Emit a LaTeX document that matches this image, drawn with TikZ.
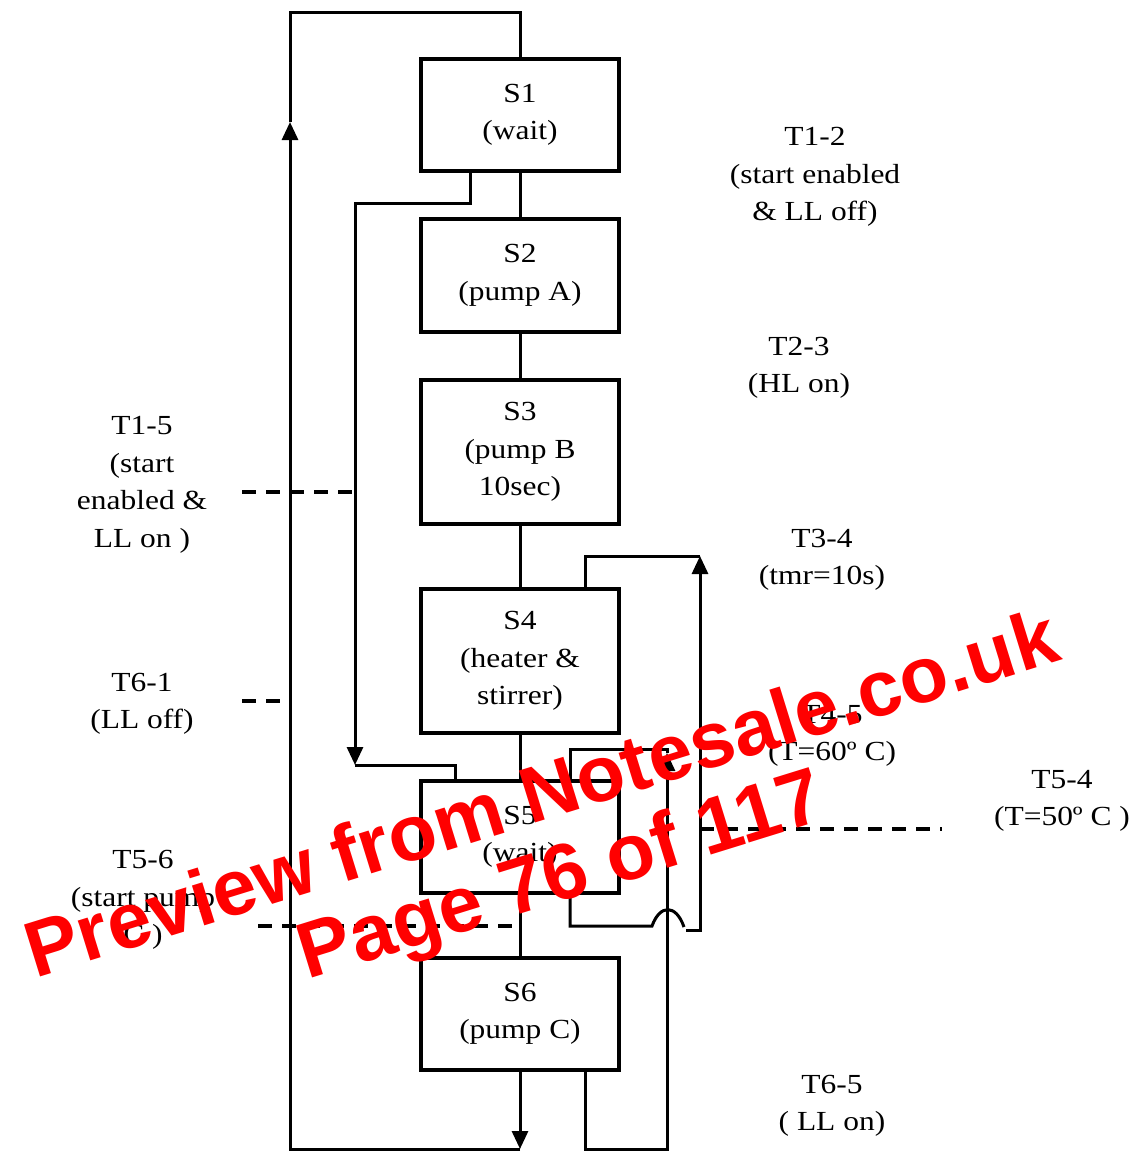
\documentclass[tikz,border=0pt]{standalone}
\usepackage{fontspec}
\setmainfont{Liberation Serif}[FakeStretch=1.14]
\newfontfamily\wmfont{Liberation Sans}
\usetikzlibrary{arrows.meta}
\newcommand\lblfont{\fontsize{13.8}{18.75}\selectfont}
\begin{document}
\begin{tikzpicture}[x=0.5pt,y=-0.5pt,
  state/.style={draw,line width=2pt,minimum width=99pt,align=center,inner sep=0pt,font=\lblfont},
  conn/.style={line width=1.5pt},
  tip/.style={-{Triangle[length=9pt,width=8pt]}},
  dsh/.style={line width=2pt,dash pattern=on 7pt off 5pt},
  lbl/.style={align=center,font=\lblfont,inner sep=0pt},
  wm/.style={text=red,font=\wmfont\bfseries\fontsize{39.5}{48}\selectfont,rotate=17.2,inner sep=0pt}]
\useasboundingbox (0,0) rectangle (1139,1152);
% states
\node[state,minimum height=56pt]   (S1) at (520,115)   {S1\\(wait)};
\node[state,minimum height=56.5pt] (S2) at (520,275.5) {S2\\(pump A)};
\node[state,minimum height=72pt]   (S3) at (520,452)   {S3\\(pump B\\10sec)};
\node[state,minimum height=72pt]   (S4) at (520,661)   {S4\\(heater \&\\stirrer)};
\node[state,minimum height=56pt]   (S5) at (520,837)   {S5\\(wait)};
\node[state,minimum height=56pt]   (S6) at (520,1014)  {S6\\(pump C)};
% straight transitions
\draw[conn] (S1) -- (S2);
\draw[conn] (S2) -- (S3);
\draw[conn] (S3) -- (S4);
\draw[conn] (S4) -- (S5);
\draw[conn] (S5) -- (S6);
% S6 -> S1 outer loop
\coordinate (bm) at (520,1149);
\coordinate (la) at (290,122);
\coordinate (tm) at (520,12);
\draw[conn,tip] (S6.south) -- (bm);
\draw[conn,tip] (bm) -- (290,1149) -- (la);
\draw[conn] (la) -- (290,12) -- (tm) -- (S1.north);
% S1 -> S5
\coordinate (a15) at (355,765);
\draw[conn,tip] ([xshift=-25pt]S1.south) |- (355,203) -- (a15);
\draw[conn] (a15) -| ([xshift=-32.5pt]S5.north);
% S5 -> S4
\coordinate (a54) at (700,556);
\draw[conn] ([xshift=25pt]S5.south) |- (652,926) .. controls (660,904) and (676,904) .. (684,927);
\draw[conn,tip] (686,930) -- (700,930) -- (a54);
\draw[conn] (a54) -| ([xshift=32.5pt]S4.north);
% S6 -> S5
\coordinate (a65) at (667,753);
\draw[conn,tip] ([xshift=32.5pt]S6.south) |- (667,1149) -- (a65);
\draw[conn] (a65) -- (667,749) -| ([xshift=25pt]S5.north);
% dashed transition marks
\draw[dsh] (242,492) -- (355,492);
\draw[dsh] (242,701) -- (290,701);
\draw[dsh] (258,926) -- (520,926);
\draw[dsh] (700,829) -- (942,829);
% labels
\node[lbl] (L12) at (815,177) {T1-2\\(start enabled\\\& LL off)};
\node[lbl] (L23) at (799,368) {T2-3\\(HL on)};
\node[lbl] (L34) at (822,560) {T3-4\\(tmr=10s)};
\node[lbl] (L45) at (832,736) {T4-5\\(T=60º C)};
\node[lbl] (L54) at (1062,801) {T5-4\\(T=50º C )};
\node[lbl] (L65) at (832,1106) {T6-5\\( LL on)};
\node[lbl] (L15) at (142,485) {T1-5\\(start\\enabled \&\\LL on )};
\node[lbl] (L61) at (142,704) {T6-1\\(LL off)};
\node[lbl] (L56) at (143,900) {T5-6\\(start pump\\C )};
% watermark
\node[wm] (wm1) at (541,792) {Preview from Notesale.co.uk};
\node[wm] (wm2) at (562,880) {Page 76 of 117};
\end{tikzpicture}
\end{document}
